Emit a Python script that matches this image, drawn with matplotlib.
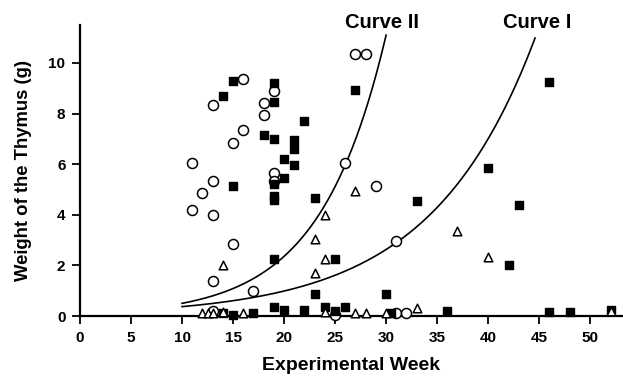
import numpy as np
import matplotlib
matplotlib.use("Agg")
import matplotlib.pyplot as plt

plt.rcParams["font.family"] = ["Liberation Sans", "DejaVu Sans"]
plt.rcParams["font.weight"] = "bold"

# open circles
circle_week = [11, 11, 12, 13, 13, 13, 13, 13, 15, 15, 16, 16, 17, 18, 18, 19, 19, 19,
               26, 27, 28, 29, 31, 31, 32, 25]
circle_g = [6.05, 4.2, 4.85, 8.35, 5.35, 4.0, 1.4, 0.2, 6.85, 2.85, 9.35, 7.35, 1.0,
            8.4, 7.95, 8.9, 5.65, 5.35, 6.05, 10.35, 10.35, 5.15, 2.95, 0.1, 0.1, 0.05]

# filled squares
square_week = [14, 15, 15, 18, 19, 19, 19, 19, 19, 19, 19, 20, 20, 20, 21, 21, 21, 22, 22,
               23, 23, 24, 25, 25, 26, 27, 30, 33, 40, 42, 43, 46, 36, 46, 48, 52,
               15, 17, 14, 30.5, 19]
square_g = [8.7, 9.3, 5.15, 7.15, 9.2, 8.45, 7.0, 4.75, 4.6, 2.25, 0.35, 6.2, 5.45, 0.25,
            6.95, 6.6, 5.95, 7.7, 0.25, 4.65, 0.85, 0.35, 2.25, 0.2, 0.35, 8.95, 0.85,
            4.55, 5.85, 2.0, 4.4, 9.25, 0.2, 0.15, 0.15, 0.25, 0.05, 0.1, 0.1, 0.1, 5.2]

# open triangles
tri_week = [12, 12.5, 13, 14, 14, 16, 23, 23, 24, 24, 24, 27, 27, 28, 30, 33, 37, 40, 52]
tri_g = [0.1, 0.1, 0.1, 0.15, 2.0, 0.1, 3.05, 1.7, 4.0, 2.25, 0.15, 4.95, 0.1, 0.1, 0.1,
         0.3, 3.35, 2.35, 0.2]

# fitted curves: y = a * exp(b * (week - 10))
curve1_a, curve1_b, curve1_end = 0.37, 0.098, 44.6
curve2_a, curve2_b, curve2_end = 0.5, 0.155, 30.0

fig = plt.figure(figsize=(6.23, 3.77), dpi=100)
ax = fig.add_axes([0.1284, 0.1618, 0.8696, 0.7719])

x1 = np.linspace(10, curve1_end, 200)
x2 = np.linspace(10, curve2_end, 200)
ax.plot(x1, curve1_a * np.exp(curve1_b * (x1 - 10)), color="black", lw=1.2)
ax.plot(x2, curve2_a * np.exp(curve2_b * (x2 - 10)), color="black", lw=1.2)

ax.scatter(circle_week, circle_g, s=52, facecolors="white", edgecolors="black",
           linewidths=1.1, clip_on=False, zorder=3)
ax.scatter(square_week, square_g, s=26, marker="s", color="black", clip_on=False, zorder=3)
ax.scatter(tri_week, tri_g, s=38, marker="^", facecolors="white", edgecolors="black",
           linewidths=1.1, clip_on=False, zorder=3)

ax.text(29.6, 11.6, "Curve II", ha="center", va="center", fontsize=14.5, fontweight="bold")
ax.text(44.85, 11.6, "Curve I", ha="center", va="center", fontsize=14.5, fontweight="bold")

ax.set_xlim(0, 53.1)
ax.set_ylim(0, 11.5)
ax.set_xticks(range(0, 51, 5))
ax.set_yticks(range(0, 11, 2))
ax.spines["top"].set_visible(False)
ax.spines["right"].set_visible(False)
ax.spines["left"].set_linewidth(1.6)
ax.spines["bottom"].set_linewidth(1.6)
ax.tick_params(length=5.5, width=1.3, labelsize=11, pad=5)

ax.set_xlabel("Experimental Week", fontsize=14, fontweight="bold", labelpad=9)
ax.set_ylabel("Weight of the Thymus (g)", fontsize=13.3, fontweight="bold", labelpad=12)

plt.savefig("out.png", dpi=100)
plt.close()
